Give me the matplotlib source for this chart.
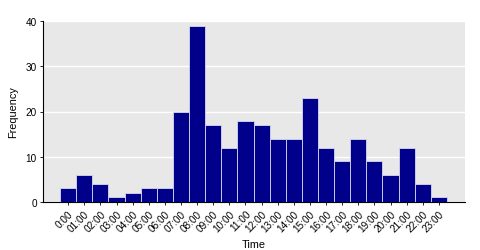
import numpy as np
from matplotlib import pyplot as plt

plt.rcParams['font.family'] = ['Liberation Sans', 'DejaVu Sans']

# Hourly counts
hours = ['0:00', '01:00', '02:00', '03:00', '04:00', '05:00', '06:00', '07:00',
         '08:00', '09:00', '10:00', '11:00', '12:00', '13:00', '14:00', '15:00',
         '16:00', '17:00', '18:00', '19:00', '20:00', '21:00', '22:00', '23:00']
counts = [3, 6, 4, 1, 2, 3, 3, 20, 39, 17, 12, 18, 17, 14, 14, 23,
          12, 9, 14, 9, 6, 12, 4, 1]

fig = plt.figure(figsize=(4.81, 2.51), dpi=100)
ax = fig.add_axes([43/481, 48/251, 422/481, 181/251])
ax.set_facecolor('#e8e8e8')

x = np.arange(len(hours))
ax.bar(x, counts, width=1.0, color='#00008b', edgecolor='#d8d8f0', linewidth=0.6, zorder=3)

ax.set_ylim(0, 40)
ax.set_yticks([0, 10, 20, 30, 40])
ax.set_xlim(-1.56, 24.62)
ax.set_xticks(x)
ax.set_xticklabels(hours, rotation=45, ha='right', rotation_mode='anchor')
ax.grid(axis='y', color='white', linewidth=1.0, zorder=1)

for s in ['top', 'right']:
    ax.spines[s].set_visible(False)
for s in ['left', 'bottom']:
    ax.spines[s].set_linewidth(0.8)
ax.tick_params(axis='both', labelsize=7.2, length=2.5, width=0.6, pad=2)
ax.set_ylabel('Frequency', fontsize=7.8, labelpad=5)
ax.set_xlabel('Time', fontsize=7.8, labelpad=4)

fig.savefig('out.png', dpi=100)
